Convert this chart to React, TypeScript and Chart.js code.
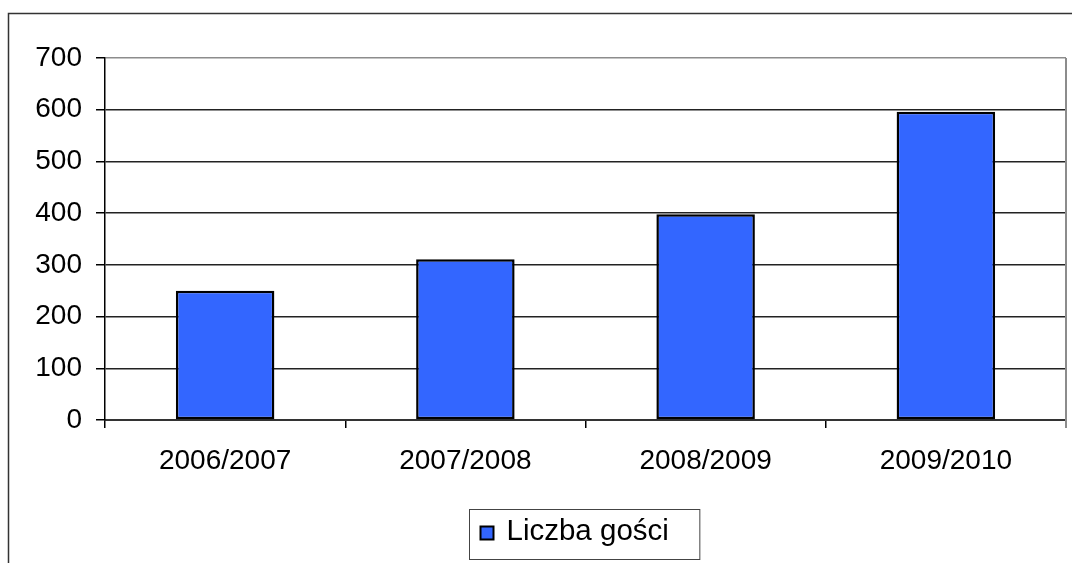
import React, { useEffect, useRef } from "react";
import { Chart, registerables } from "chart.js";
Chart.register(...registerables);

const categories = ["2006/2007", "2007/2008", "2008/2009", "2009/2010"];
const guests = [250, 311, 398, 596];
const seriesLabel = "Liczba gości";
const yMin = 0;
const yMax = 700;
const yStep = 100;

const FONT = "'Liberation Sans', Arial, sans-serif";
const BAR_COLOR = "#3366FF";

const framePlugin = {
  id: "frame",
  beforeDraw(chart: any) {
    const { ctx, width, height } = chart;
    ctx.save();
    ctx.fillStyle = "#fff";
    ctx.fillRect(0, 0, width, height);
    ctx.strokeStyle = "#333";
    ctx.lineWidth = 1.5;
    ctx.beginPath();
    ctx.moveTo(8.5, height);
    ctx.lineTo(8.5, 13.5);
    ctx.lineTo(width, 13.5);
    ctx.stroke();
    ctx.restore();
  },
  beforeDatasetsDraw(chart: any) {
    const { ctx, chartArea } = chart;
    ctx.save();
    ctx.strokeStyle = "#8c8c8c";
    ctx.lineWidth = 2;
    ctx.beginPath();
    ctx.moveTo(chartArea.right, chartArea.top);
    ctx.lineTo(chartArea.right, chartArea.bottom + 8);
    ctx.stroke();
    ctx.restore();
  },
  afterDraw(chart: any) {
    const { ctx, chartArea } = chart;
    const ds = chart.data.datasets[0];
    ctx.save();
    ctx.font = `29.5px ${FONT}`;
    const tw = ctx.measureText(ds.label).width;
    const sw = 13;
    const gap = 13;
    const padL = 11;
    const padR = 31;
    const boxW = padL + sw + gap + tw + padR;
    const boxH = 50;
    const cx = (chartArea.left + chartArea.right) / 2;
    const bx = Math.round(cx - boxW / 2) - 0.5;
    const by = 509.5;
    ctx.strokeStyle = "#444";
    ctx.lineWidth = 1;
    ctx.strokeRect(bx, by, boxW, boxH);
    ctx.fillStyle = BAR_COLOR;
    ctx.fillRect(bx + padL, by + 17, sw, sw);
    ctx.strokeStyle = "#000";
    ctx.lineWidth = 2;
    ctx.strokeRect(bx + padL, by + 17, sw, sw);
    ctx.fillStyle = "#000";
    ctx.textBaseline = "alphabetic";
    ctx.textAlign = "left";
    ctx.fillText(ds.label, bx + padL + sw + gap, by + 30);
    ctx.restore();
  },
};

export default function App() {
  const ref = useRef<HTMLCanvasElement | null>(null);
  useEffect(() => {
    if (!ref.current) return;
    const chart = new Chart(ref.current, {
      type: "bar",
      data: {
        labels: categories,
        datasets: [
          {
            label: seriesLabel,
            data: guests,
            backgroundColor: BAR_COLOR,
            borderColor: "#000",
            borderWidth: 2.5,
            borderSkipped: false,
            categoryPercentage: 1,
            barPercentage: 0.41,
          },
        ],
      },
      options: {
        animation: false,
        responsive: false,
        layout: { padding: { top: 58, right: 6, left: 0, bottom: 0 } },
        plugins: { legend: { display: false }, tooltip: { enabled: false } },
        scales: {
          x: {
            afterFit(scale: any) {
              scale.height = 143;
            },
            grid: {
              offset: true,
              drawOnChartArea: false,
              drawTicks: true,
              tickLength: 8,
              tickColor: "#000",
              lineWidth: 1.5,
            },
            border: { display: true, color: "#333", width: 2 },
            ticks: {
              font: { family: FONT, size: 28 },
              color: "#000",
              padding: 16,
              maxRotation: 0,
            },
          },
          y: {
            min: yMin,
            max: yMax,
            afterFit(scale: any) {
              scale.width = 105;
            },
            grid: {
              color: (c: any) => (c.tick && c.tick.value === yMax ? "#8c8c8c" : "#222"),
              lineWidth: 1.5,
              drawTicks: true,
              tickLength: 9,
              tickColor: "#000",
            },
            border: { display: true, color: "#000", width: 1.5 },
            ticks: {
              stepSize: yStep,
              font: { family: FONT, size: 28 },
              color: "#000",
              padding: 14,
            },
          },
        },
      },
      plugins: [framePlugin],
    });
    return () => chart.destroy();
  }, []);
  return (
    <div style={{ position: "absolute", left: 0, top: 0, width: 1072, height: 563 }}>
      <canvas ref={ref} width={1072} height={563} style={{ width: 1072, height: 563, display: "block" }} />
    </div>
  );
}
